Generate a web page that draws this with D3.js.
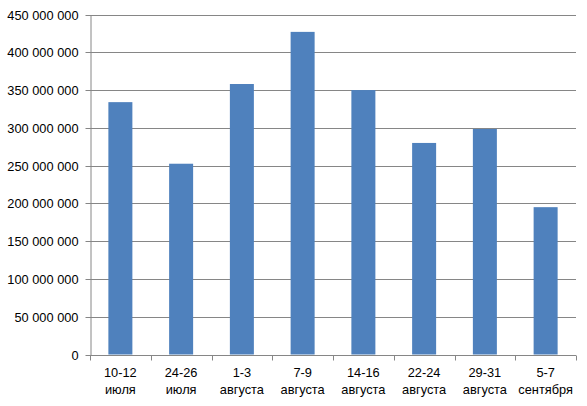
<!DOCTYPE html>
<html><head><meta charset="utf-8">
<script src="https://cdn.jsdelivr.net/npm/d3@7"></script>
<style>body{margin:0;background:#fff}</style>
</head><body>
<svg id="c" width="587" height="406"></svg>
<script>
const categories = [["10-12","июля"],["24-26","июля"],["1-3","августа"],["7-9","августа"],["14-16","августа"],["22-24","августа"],["29-31","августа"],["5-7","сентября"]];
const values = [334000000, 252500000, 358000000, 427000000, 350000000, 280000000, 298500000, 195000000];
const yTicks = [0,50000000,100000000,150000000,200000000,250000000,300000000,350000000,400000000,450000000];

const svg = d3.select("#c");
const L = 90, R = 576, T = 14.5, B = 354.5;
const font = "'Liberation Sans', Arial, sans-serif";
const x = d3.scaleBand().domain(d3.range(categories.length)).range([L, R]).paddingInner(0.605).paddingOuter(0.3025);
const xb = d3.scaleBand().domain(d3.range(categories.length)).range([L, R]);
const y = d3.scaleLinear().domain([0, 450000000]).range([B, T]);
const fmt = v => d3.format(",")(v).replace(/,/g, " ");

// gridlines
svg.append("g").selectAll("line").data(yTicks.filter(d => d > 0)).join("line")
  .attr("x1", L).attr("x2", R).attr("y1", d => Math.round(y(d)) + 0.5).attr("y2", d => Math.round(y(d)) + 0.5)
  .attr("stroke", "#868686").attr("stroke-width", 1);

// bars
svg.append("g").selectAll("rect").data(values).join("rect")
  .attr("x", (d, i) => x(i)).attr("width", x.bandwidth())
  .attr("y", d => y(d)).attr("height", d => y(0) - y(d))
  .attr("fill", "#4F81BD");

// y axis
const ya = svg.append("g").attr("transform", `translate(${L + 0.5},0)`)
  .call(d3.axisLeft(y).tickValues(yTicks).tickFormat(fmt).tickSize(5).tickSizeOuter(0).tickPadding(7));
ya.select(".domain").attr("stroke", "#868686");
ya.selectAll(".tick line").attr("stroke", "#868686");
ya.selectAll(".tick text").attr("font-family", font).attr("font-size", "12.8px").attr("fill", "#000");
ya.selectAll(".tick").attr("transform", d => `translate(0,${Math.round(y(d)) + 0.5})`);

// x axis
const xa = svg.append("g").attr("transform", `translate(0,${Math.round(B) + 0.5})`);
xa.append("line").attr("x1", L).attr("x2", R).attr("stroke", "#868686");
const edges = d3.range(categories.length + 1).map(i => i < categories.length ? xb(i) : R);
xa.selectAll("line.t").data(edges).join("line").attr("class", "t")
  .attr("x1", d => Math.round(d) + 0.5).attr("x2", d => Math.round(d) + 0.5).attr("y1", 0).attr("y2", 5)
  .attr("stroke", "#868686");
const lab = xa.selectAll("text").data(categories).join("text")
  .attr("x", (d, i) => xb(i) + xb.bandwidth() / 2)
  .attr("text-anchor", "middle").attr("font-family", font).attr("font-size", "12.8px").attr("fill", "#000");
lab.append("tspan").attr("x", (d, i) => xb(i) + xb.bandwidth() / 2).attr("y", 21).text(d => d[0]);
lab.append("tspan").attr("x", (d, i) => xb(i) + xb.bandwidth() / 2).attr("y", 38).text(d => d[1]);
</script>
</body></html>
